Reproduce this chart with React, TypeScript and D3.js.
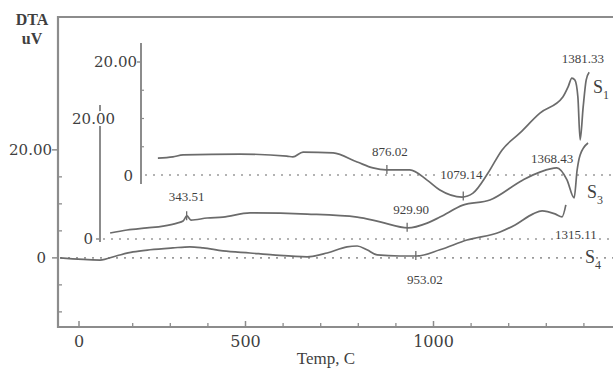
import React from 'react';
import * as d3 from 'd3';

const W = 613;
const H = 368;

// Axis ticks
const xMajorTicks = [0, 500, 1000];
const xMajorLabels = ['0', '500', '1000'];
const xMinorTicks = [200, 300, 400, 600, 700, 800, 900, 1100, 1200, 1300, 1400];
const yMainMajor = [0, 20];
const yMainLabels = ['0', '20.00'];
const yMainMinor = [-10, -5, 5, 10, 15];
const s1Minor = [5, 10, 15];

// Series S4 (bottom, main axes)
const s4Temp = [7, 113, 158, 201, 246, 307, 352, 387, 440, 512, 573, 664, 717, 770, 797, 823, 850, 911, 956, 1017, 1089, 1177, 1217, 1265, 1289, 1323, 1342, 1352];
const s4Dta = [0, -0.4, 0.4, 1.1, 1.5, 1.85, 2.05, 1.85, 1.3, 0.9, 0.55, 0.2, 0.9, 2.05, 2.2, 1.5, 0.55, 0.35, 0.35, 1.5, 3.3, 4.8, 6.1, 8.15, 8.7, 8.15, 7.6, 9.8];

// Series S3 (middle, offset axes)
const s3Temp = [140, 185, 238, 281, 318, 334, 344, 355, 398, 440, 512, 664, 797, 858, 932, 983, 1017, 1078, 1150, 1238, 1283, 1328, 1355, 1374, 1382, 1390, 1411];
const s3Dta = [1.0, 1.5, 1.85, 2.15, 2.65, 3.0, 3.85, 3.15, 3.5, 3.65, 4.35, 4.15, 3.65, 2.85, 1.85, 2.65, 3.65, 5.65, 6.5, 9.85, 11.15, 11.85, 9.85, 6.85, 11.5, 14, 16];

// Series S1 (top, offset axes)
const s1Temp = [267, 307, 334, 485, 610, 626, 653, 733, 797, 839, 874, 937, 983, 1017, 1076, 1105, 1145, 1182, 1230, 1283, 1344, 1358, 1368, 1376, 1384, 1390, 1398, 1406, 1414];
const s1Dta = [3.0, 3.2, 3.55, 3.7, 3.35, 3.2, 4.05, 3.9, 2.3, 1.25, 0.9, 0.9, -0.9, -2.65, -3.9, -3.2, 0.35, 4.4, 7.45, 10.95, 13.8, 15.6, 17.15, 16.8, 13.8, 6.2, 12, 16.8, 18.2];

// Peak temperatures
const s1Peaks = [876.02, 1079.14, 1381.33];
const s3Peaks = [343.51, 929.90, 1368.43];
const s4Peaks = [953.02, 1315.11];

const LINE = '#6b6b6b';
const AXIS = '#8c8c8c';
const TXT = '#3f3f3f';
const numFont = "'DejaVu Serif', serif";
const timesFont = "'Liberation Serif', 'Times New Roman', serif";

export default function App() {
  const x = d3.scaleLinear().domain([0, 1000]).range([57.5, 433.5]);
  const xLab = d3.scaleLinear().domain([0, 500, 1000]).range([79, 245.5, 433.5]);
  const y4 = d3.scaleLinear().domain([-12.8, 44.6]).range([327, 17]);
  const y3 = d3.scaleLinear().domain([0, 20]).range([239, 119]);
  const y1 = d3.scaleLinear().domain([0, 20]).range([175, 62]);

  const mk = (t: number[], v: number[], ys: d3.ScaleLinear<number, number>) =>
    d3.line<number>().x((_, i) => x(t[i])).y((d) => ys(d)).curve(d3.curveMonotoneX)(v) || '';

  const interp = (t: number[], v: number[]) => d3.scaleLinear().domain(t).range(v);
  const f1 = interp(s1Temp, s1Dta);
  const f3 = interp(s3Temp, s3Dta);
  const f4 = interp(s4Temp, s4Dta);

  const halo = { stroke: 'white', strokeWidth: 4, paintOrder: 'stroke' as const, strokeLinejoin: 'round' as const };

  // markers (temp, series scale, interpolator)
  const markers = [
    { t: s1Peaks[0], ys: y1, f: f1 },
    { t: s1Peaks[1], ys: y1, f: f1 },
    { t: s3Peaks[0], ys: y3, f: f3 },
    { t: s3Peaks[1], ys: y3, f: f3 },
    { t: s4Peaks[0], ys: y4, f: f4 },
  ];

  // peak labels: temp + layout offsets
  const peakLabels = [
    { t: s1Peaks[0], dx: 3, y: 151 },
    { t: s1Peaks[1], dx: -2, y: 174 },
    { t: s1Peaks[2], dx: 6, y: 58 },
    { t: s3Peaks[0], dx: 0, y: 196 },
    { t: s3Peaks[1], dx: 4, y: 209 },
    { t: s3Peaks[2], dx: -20, y: 158 },
    { t: s4Peaks[0], dx: 9, y: 279 },
    { t: s4Peaks[1], dx: 24, y: 234 },
  ];

  return (
    <svg width={W} height={H} style={{ position: 'absolute', left: 0, top: 0, background: 'white' }}>
      {/* frame */}
      <line x1={58} y1={17} x2={W} y2={17} stroke={AXIS} strokeWidth={2.2} />
      <line x1={58} y1={16} x2={58} y2={328} stroke={AXIS} strokeWidth={2.2} />
      <line x1={57} y1={327} x2={W} y2={327} stroke={AXIS} strokeWidth={2.2} />

      {/* dotted zero lines */}
      <line x1={60} y1={y4(0)} x2={W} y2={y4(0)} stroke="#9a9a9a" strokeWidth={1.6} strokeDasharray="2 6" />
      <line x1={103} y1={y3(0)} x2={W} y2={y3(0)} stroke="#9a9a9a" strokeWidth={1.6} strokeDasharray="2 6" />
      <line x1={145} y1={y1(0)} x2={W} y2={y1(0)} stroke="#9a9a9a" strokeWidth={1.6} strokeDasharray="2 6" />

      {/* x axis ticks */}
      {xMajorTicks.map((t, i) => (
        <g key={'xm' + i}>
          <line x1={xLab(t)} x2={xLab(t)} y1={321} y2={327} stroke={AXIS} strokeWidth={1.5} />
          <text x={xLab(t)} y={347} textAnchor="middle" fontFamily={numFont} fontSize={16} fill={TXT}>{xMajorLabels[i]}</text>
        </g>
      ))}
      {xMinorTicks.map((t, i) => (
        <line key={'xn' + i} x1={x(t)} x2={x(t)} y1={323} y2={327} stroke={AXIS} strokeWidth={1.3} />
      ))}
      <text x={326} y={364} textAnchor="middle" fontFamily={timesFont} fontSize={17} fill={TXT}>Temp, C</text>

      {/* main y axis */}
      {yMainMajor.map((v, i) => (
        <g key={'ym' + i}>
          <line x1={52} x2={58} y1={y4(v)} y2={y4(v)} stroke={AXIS} strokeWidth={1.5} />
          <text x={i === 0 ? 46 : 52} y={y4(v)} dy="0.35em" textAnchor="end" fontFamily={numFont} fontSize={15} fill={TXT}>{yMainLabels[i]}</text>
        </g>
      ))}
      {yMainMinor.map((v, i) => (
        <line key={'yn' + i} x1={58} x2={62} y1={y4(v)} y2={y4(v)} stroke={AXIS} strokeWidth={1.3} />
      ))}
      <text x={32} y={25} textAnchor="middle" fontFamily={timesFont} fontWeight="bold" fontSize={16} fill={TXT}>DTA</text>
      <text x={32} y={44} textAnchor="middle" fontFamily={timesFont} fontWeight="bold" fontSize={16} fill={TXT}>uV</text>

      {/* S3 axis */}
      <line x1={100} x2={100} y1={105} y2={242} stroke={AXIS} strokeWidth={2} />
      <line x1={96} x2={100} y1={y3(0)} y2={y3(0)} stroke={AXIS} strokeWidth={1.5} />
      <text x={93} y={y3(0)} dy="0.35em" textAnchor="end" fontFamily={numFont} fontSize={15} fill={TXT}>0</text>
      <text x={115} y={y3(20)} dy="0.35em" textAnchor="end" fontFamily={numFont} fontSize={15} fill={TXT} {...halo}>20.00</text>

      {/* S1 axis */}
      <line x1={141} x2={141} y1={43} y2={184} stroke={AXIS} strokeWidth={2} />
      <line x1={137} x2={141} y1={y1(20)} y2={y1(20)} stroke={AXIS} strokeWidth={1.5} />
      {s1Minor.map((v, i) => (
        <line key={'s1n' + i} x1={141} x2={144} y1={y1(v)} y2={y1(v)} stroke={AXIS} strokeWidth={1.2} />
      ))}
      <text x={137} y={y1(20)} dy="0.35em" textAnchor="end" fontFamily={numFont} fontSize={15} fill={TXT}>20.00</text>
      <text x={133} y={y1(0) + 1} dy="0.35em" textAnchor="end" fontFamily={numFont} fontSize={15} fill={TXT}>0</text>

      {/* peak labels (with halo over dotted lines) */}
      {peakLabels.map((p, i) => (
        <text key={'pl' + i} x={x(p.t) + p.dx} y={p.y} dy="0.35em" textAnchor="middle" fontFamily={timesFont} fontSize={13} fill={TXT} {...halo}>
          {p.t.toFixed(2)}
        </text>
      ))}

      {/* curves */}
      <path d={mk(s4Temp, s4Dta, y4)} fill="none" stroke={LINE} strokeWidth={1.7} strokeLinejoin="round" />
      <path d={mk(s3Temp, s3Dta, y3)} fill="none" stroke={LINE} strokeWidth={1.7} strokeLinejoin="round" />
      <path d={mk(s1Temp, s1Dta, y1)} fill="none" stroke={LINE} strokeWidth={1.7} strokeLinejoin="round" />

      {/* peak markers */}
      {markers.map((m, i) => {
        const cx = x(m.t);
        const cy = m.ys(m.f(m.t));
        return <line key={'mk' + i} x1={cx} x2={cx} y1={cy - 5} y2={cy + 4} stroke={LINE} strokeWidth={1.3} />;
      })}

      {/* series labels */}
      <g fontFamily={timesFont} fill={TXT}>
        <text x={593} y={93} fontSize={18} {...halo}>S<tspan fontSize={12} dy={6}>1</tspan></text>
        <text x={587} y={198} fontSize={18} {...halo}>S<tspan fontSize={12} dy={6}>3</tspan></text>
        <text x={585} y={263} fontSize={18} {...halo}>S<tspan fontSize={12} dy={6}>4</tspan></text>
      </g>
    </svg>
  );
}
